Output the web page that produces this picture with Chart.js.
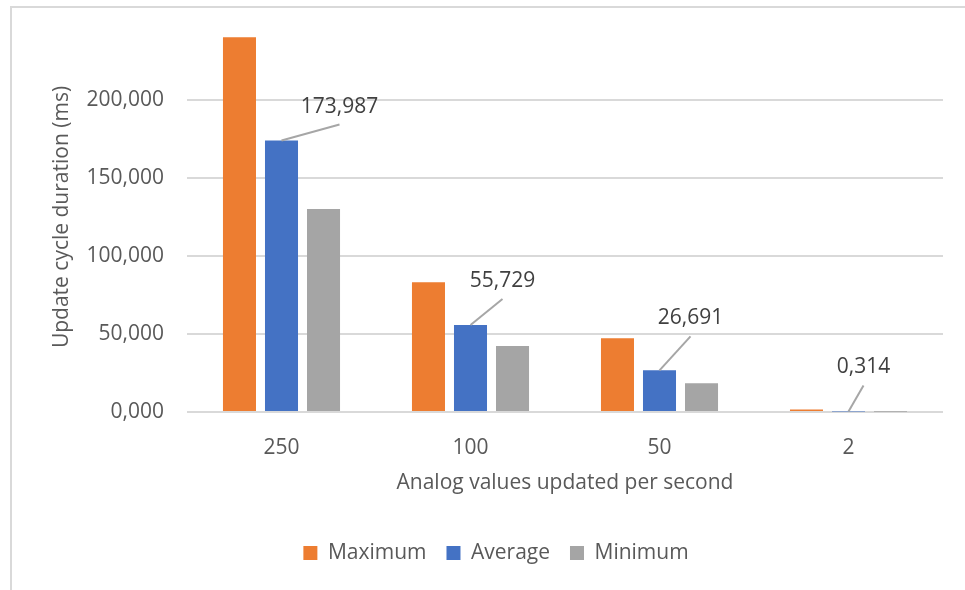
<!DOCTYPE html>
<html>
<head>
<meta charset="utf-8">
<title>Update cycle duration</title>
<script src="https://cdn.jsdelivr.net/npm/chart.js@4.4.1/dist/chart.umd.min.js"></script>
<style>
  html, body { margin: 0; padding: 0; background: #fff; overflow: hidden; }
  canvas { display: block; }
</style>
</head>
<body>
<canvas id="chart" width="965" height="590"></canvas>
<script>
"use strict";

// Values in ms, one entry per rate category
const categories = ["250", "100", "50", "2"];
const maximum = [240.3, 83.2, 47.2, 1.6];
const average = [173.987, 55.729, 26.691, 0.314];
const minimum = [130.1, 42.3, 18.4, 0.1];
const yTicks = [0, 50, 100, 150, 200];

// Where each average label sits relative to the top of its bar (text centre)
const labelOffsets = [[58, -34], [32, -44], [31, -52], [15, -44]];

const FONT = "'Open Sans', 'Noto Sans', sans-serif";
const AXIS_GREY = "#595959";
const GRID = "#d9d9d9";

const fmtMs = (v) => v.toFixed(3).replace(".", ",");

// Light frame along the top and left edges
const framePlugin = {
  id: "frame",
  beforeDraw(chart) {
    const ctx = chart.ctx;
    ctx.save();
    ctx.strokeStyle = GRID;
    ctx.lineWidth = 2;
    ctx.beginPath();
    ctx.moveTo(11, chart.height);
    ctx.lineTo(11, 7);
    ctx.lineTo(chart.width, 7);
    ctx.stroke();
    ctx.restore();
  },
};

// Callout labels with leader lines on the Average bars
const calloutPlugin = {
  id: "callouts",
  afterDatasetsDraw(chart) {
    const ctx = chart.ctx;
    const meta = chart.getDatasetMeta(1);
    ctx.save();
    ctx.font = `21px ${FONT}`;
    ctx.textAlign = "center";
    ctx.textBaseline = "middle";
    meta.data.forEach((bar, i) => {
      const [dx, dy] = labelOffsets[i];
      const tx = bar.x + dx, ty = bar.y + dy;
      ctx.strokeStyle = "#a6a6a6";
      ctx.lineWidth = 2;
      ctx.beginPath();
      ctx.moveTo(bar.x, bar.y);
      ctx.lineTo(tx, ty + 18);
      ctx.stroke();
      ctx.fillStyle = "#404040";
      ctx.fillText(fmtMs(average[i]), tx, ty);
    });
    ctx.restore();
  },
};

new Chart(document.getElementById("chart"), {
  type: "bar",
  data: {
    labels: categories,
    datasets: [
      { label: "Maximum", data: maximum, backgroundColor: "#ed7d31" },
      { label: "Average", data: average, backgroundColor: "#4472c4" },
      { label: "Minimum", data: minimum, backgroundColor: "#a5a5a5" },
    ],
  },
  options: {
    responsive: false,
    animation: false,
    devicePixelRatio: 1,
    categoryPercentage: 0.667,
    barPercentage: 0.786,
    layout: { padding: { left: 49, right: 22, top: 22, bottom: 16.5 } },
    plugins: {
      tooltip: { enabled: false },
      legend: {
        position: "bottom",
        labels: {
          color: AXIS_GREY,
          font: { family: FONT, size: 21 },
          boxWidth: 14,
          boxHeight: 14,
          padding: 20,
        },
      },
    },
    scales: {
      x: {
        grid: { display: false },
        border: { display: false },
        ticks: { color: AXIS_GREY, font: { family: FONT, size: 21 }, padding: 15 },
        title: {
          display: true,
          text: "Analog values updated per second",
          color: AXIS_GREY,
          font: { family: FONT, size: 21 },
          padding: { top: 0, bottom: 27 },
        },
        afterFit: (scale) => { scale.height = 110.5; },
      },
      y: {
        min: 0,
        max: 250,
        border: { display: false },
        grid: { color: GRID, lineWidth: 2, drawTicks: false },
        ticks: {
          stepSize: 50,
          color: AXIS_GREY,
          font: { family: FONT, size: 21 },
          padding: 23,
          callback: (v) => fmtMs(v),
        },
        afterBuildTicks: (scale) => {
          scale.ticks = yTicks.map((v) => ({ value: v }));
        },
        title: {
          display: true,
          text: "Update cycle duration (ms)",
          color: AXIS_GREY,
          font: { family: FONT, size: 21 },
          padding: { top: 0, bottom: 0 },
        },
        afterFit: (scale) => {
          scale.width = 138;
          scale.paddingTop = 0;
          scale.paddingBottom = 0;
        },
      },
    },
  },
  plugins: [framePlugin, calloutPlugin],
});
</script>
</body>
</html>
